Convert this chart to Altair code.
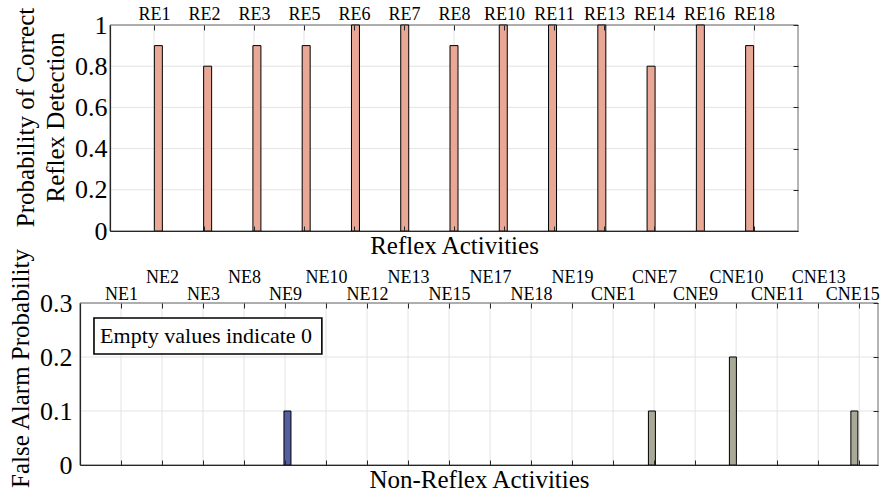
import altair as alt
import pandas as pd

# ---------------- data ----------------
re_names = ["RE1", "RE2", "RE3", "RE5", "RE6", "RE7", "RE8", "RE10", "RE11",
            "RE13", "RE14", "RE16", "RE18"]
re_vals = [0.9, 0.8, 0.9, 0.9, 1.0, 1.0, 0.9, 1.0, 1.0, 1.0, 0.8, 1.0, 0.9]

ne_names = ["NE1", "NE2", "NE3", "NE8", "NE9", "NE10", "NE12", "NE13", "NE15",
            "NE17", "NE18", "NE19", "CNE1", "CNE7", "CNE9", "CNE10", "CNE11",
            "CNE13", "CNE15"]
ne_vals = [0, 0, 0, 0, 0.1, 0, 0, 0, 0, 0, 0, 0, 0, 0.1, 0, 0.2, 0, 0, 0.1]

top_yticks = [0, 0.2, 0.4, 0.6, 0.8, 1]
bot_yticks = [0, 0.1, 0.2, 0.3]
note_text = ["Empty values indicate 0"]

# ---------------- style ----------------
FONT = "Liberation Serif"
GRID = "#e3e3e3"
DARK = "#262626"
FRAME = "#6a6a6a"
SALMON = "#E9A796"
NAVY = "#575E9F"
KHAKI = "#A9A997"

top_df = pd.DataFrame({"idx": list(range(1, len(re_names) + 1)),
                       "name": re_names, "val": re_vals})
bot_df = pd.DataFrame({"idx": list(range(1, len(ne_names) + 1)),
                       "name": ne_names, "val": ne_vals,
                       "grp": ["CNE" if n.startswith("CNE") else "NE" for n in ne_names]})
top_tick_df = pd.DataFrame({"v": top_yticks})
bot_tick_df = pd.DataFrame({"v": bot_yticks})
note_df = pd.DataFrame({"t": note_text})

# whole figure = one plot area 798 x 440; each panel gets its own pixel range
W, H = 798, 440
TX0, TX1, TY1 = 30, 718, 206          # top panel: x 30..718, y 0..206
BY0 = 278                             # bottom panel: y 278..440

t_xmin, t_xmax = 0.12, len(re_names) + 0.88
b_xmin, b_xmax = 0.0, len(ne_names) + 0.46
xs_top = alt.Scale(domain=[t_xmin, t_xmax], range=[TX0, TX1], nice=False, zero=False)
ys_top = alt.Scale(domain=[0, 1], range=[TY1, 0], nice=False, zero=False)
xs_bot = alt.Scale(domain=[b_xmin, b_xmax], range=[0, W], nice=False, zero=False)
ys_bot = alt.Scale(domain=[0, 0.3], range=[H, BY0], nice=False, zero=False)


def arr(names):
    return "[" + ",".join("'%s'" % n for n in names) + "]"


def label_axis(names, offset, parity=None, padding=2, ticks=True, last_shift=0):
    if parity is None:
        expr = arr(names) + "[datum.value - 1]"
    else:
        expr = "(datum.value %% 2 == %d) ? %s[datum.value - 1] : ''" % (parity, arr(names))
    kw = dict(orient="top", values=list(range(1, len(names) + 1)), labelExpr=expr,
              title=None, grid=False, domain=False, labelFontSize=18, labelFont=FONT,
              labelColor="black", labelPadding=padding, labelFlush=False,
              labelOverlap=False, zindex=2)
    if last_shift:
        kw["labelOffset"] = {"condition": {"test": "datum.value == %d" % len(names),
                                           "value": last_shift}, "value": 0}
    if ticks:
        kw.update(ticks=True, tickSize=5, offset=offset - 5, tickColor=DARK, tickWidth=1)
    else:
        kw.update(ticks=False, offset=offset)
    return alt.Axis(**kw)


def tick_axis(orient, values, offset):
    return alt.Axis(orient=orient, values=values, labels=False, title=None, grid=False,
                    domain=False, ticks=True, tickSize=5, offset=offset - 5,
                    tickColor=DARK, tickWidth=1, zindex=2)


def left_axis(ticks, title, title_y, title_pad, label_pad, offset):
    return alt.Axis(orient="left", values=ticks, format="~g", grid=False, ticks=False,
                    domain=True, domainColor=DARK, domainWidth=1.2, offset=offset,
                    labelFontSize=26, labelFont=FONT, labelColor="black",
                    labelPadding=label_pad, title=title, titleFontSize=25,
                    titleFont=FONT, titleFontWeight="normal", titleColor="black",
                    titleLineHeight=30, titlePadding=title_pad, titleY=title_y, zindex=2)


def bottom_title_axis(title, offset):
    return alt.Axis(orient="bottom", labels=False, ticks=False, domain=True,
                    domainColor=DARK, domainWidth=1.2, grid=False, title=title,
                    titleFontSize=25, titleFont=FONT, titleFontWeight="normal",
                    titleColor="black", titlePadding=2, offset=offset, zindex=2)


def xd(v, sc):
    return alt.datum(v, scale=sc, axis=None)


# ---------------- top panel ----------------
t_vgrid = alt.Chart(top_df).mark_rule(color=GRID, strokeWidth=1).encode(
    x=alt.X("idx:Q", scale=xs_top, axis=label_axis(re_names, 0)),
    y=xd(1, ys_top), y2=alt.datum(0))
t_hgrid = alt.Chart(top_tick_df).mark_rule(color=GRID, strokeWidth=1).encode(
    y=alt.Y("v:Q", scale=ys_top,
            axis=left_axis(top_yticks, ["Probability of Correct", "Reflex Detection"],
                           92, 6, 3, -TX0)),
    x=xd(t_xmin, xs_top), x2=alt.datum(t_xmax))
t_frame = alt.Chart(note_df).mark_rect(fillOpacity=0, stroke=FRAME, strokeWidth=1).encode(
    x=xd(t_xmin, xs_top), x2=alt.datum(t_xmax), y=xd(0, ys_top), y2=alt.datum(1))
t_bars = alt.Chart(top_df).mark_bar(size=8, color=SALMON, stroke="black", strokeWidth=1).encode(
    x=alt.X("idx:Q", scale=xs_top, axis=bottom_title_axis("Reflex Activities", -(H - TY1))),
    y=alt.Y("val:Q", scale=ys_top, axis=tick_axis("right", top_yticks, -(W - TX1))),
    y2=alt.datum(0))
t_bticks = alt.Chart(top_df).mark_rule(opacity=0).encode(
    x=alt.X("idx:Q", scale=xs_top, axis=tick_axis("bottom", list(range(1, len(re_names) + 1)),
                                                  -(H - TY1))),
    y=xd(1, ys_top), y2=alt.datum(0))

# ---------------- bottom panel ----------------
b_vgrid = alt.Chart(bot_df).mark_rule(color=GRID, strokeWidth=1).encode(
    x=alt.X("idx:Q", scale=xs_bot,
            axis=label_axis(ne_names, -BY0, parity=1, padding=0, last_shift=-7)),
    y=xd(0.3, ys_bot), y2=alt.datum(0))
b_upper = alt.Chart(bot_df).mark_rule(opacity=0).encode(
    x=alt.X("idx:Q", scale=xs_bot,
            axis=label_axis(ne_names, -BY0, parity=0, padding=17, ticks=False)),
    y=xd(0.3, ys_bot), y2=alt.datum(0))
b_hgrid = alt.Chart(bot_tick_df).mark_rule(color=GRID, strokeWidth=1).encode(
    y=alt.Y("v:Q", scale=ys_bot,
            axis=left_axis(bot_yticks, "False Alarm Probability", 343, 6, 8, 0)),
    x=xd(b_xmin, xs_bot), x2=alt.datum(b_xmax))
b_frame = alt.Chart(note_df).mark_rect(fillOpacity=0, stroke=FRAME, strokeWidth=1).encode(
    x=xd(b_xmin, xs_bot), x2=alt.datum(b_xmax), y=xd(0, ys_bot), y2=alt.datum(0.3))
b_bars = alt.Chart(bot_df).transform_filter("datum.val > 0").mark_bar(
    size=7, stroke="black", strokeWidth=1).encode(
    x=alt.X("idx:Q", scale=xs_bot, axis=bottom_title_axis("Non-Reflex Activities", 0)),
    y=alt.Y("val:Q", scale=ys_bot, axis=tick_axis("right", bot_yticks, 0)),
    y2=alt.datum(0),
    color=alt.Color("grp:N", scale=alt.Scale(domain=["NE", "CNE"], range=[NAVY, KHAKI]),
                    legend=None))
b_bticks = alt.Chart(bot_df).mark_rule(opacity=0).encode(
    x=alt.X("idx:Q", scale=xs_bot, axis=tick_axis("bottom", list(range(1, len(ne_names) + 1)), 0)),
    y=xd(0.3, ys_bot), y2=alt.datum(0))

# annotation box, placed in the bottom panel's data coordinates
b_box = alt.Chart(note_df).mark_rect(fill="white", stroke="black", strokeWidth=1.6).encode(
    x=xd(0.341, xs_bot), x2=alt.datum(5.898), y=xd(0.2722, ys_bot), y2=alt.datum(0.2056))
b_text = alt.Chart(note_df).mark_text(font=FONT, fontSize=22, align="left",
                                      baseline="alphabetic", color="black").encode(
    x=xd(0.49, xs_bot), y=xd(0.2259, ys_bot), text="t:N")

chart = alt.layer(
    t_vgrid, t_hgrid, t_frame, t_bars, t_bticks,
    b_vgrid, b_upper, b_hgrid, b_frame, b_bars, b_bticks, b_box, b_text
).resolve_scale(
    x="independent", y="independent"
).resolve_axis(
    x="independent", y="independent"
).properties(
    width=W, height=H,
    autosize=alt.AutoSizeParams(type="none"),
    padding={"left": 80, "top": 25, "right": 3, "bottom": 34},
).configure_view(strokeWidth=0).configure_axis(
    labelFont=FONT, titleFont=FONT, titleFontWeight="normal"
)

chart.save("out.html", embed_options={"renderer": "svg", "actions": False})
